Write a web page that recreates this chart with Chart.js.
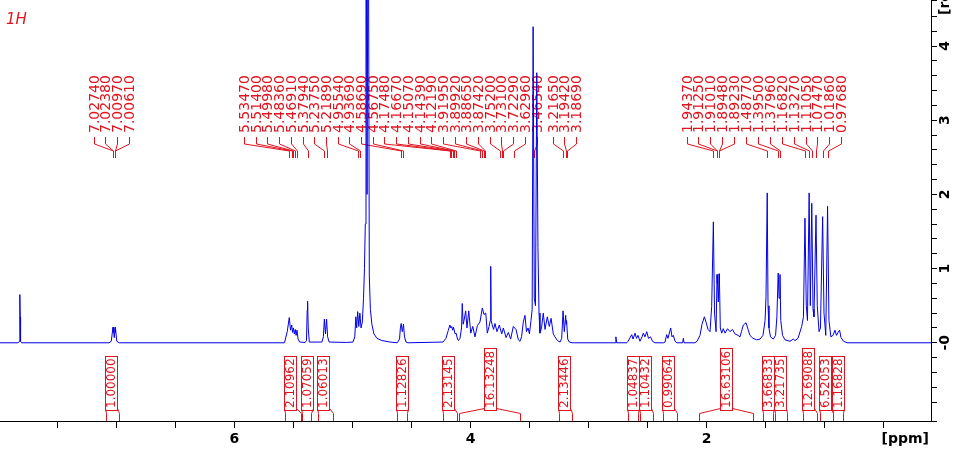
<!DOCTYPE html>
<html>
<head>
<meta charset="utf-8">
<script src="https://cdn.jsdelivr.net/npm/chart.js@4.4.0/dist/chart.umd.min.js"></script>
<style>
  body { margin: 0; background: #fff; }
  canvas { display: block; }
</style>
</head>
<body>
<canvas id="nmr" width="960" height="449"></canvas>
<script>
// спектр 1H: сдвиг (ppm) и интенсивность
const shift = [
  7.984, 7.83, 7.821, 7.816, 7.813, 7.810, 7.80,
  7.06, 7.042, 7.0274, 7.0256, 7.0238, 7.0167, 7.0097, 7.0079, 7.0061, 6.995, 6.975,
  5.575, 5.552, 5.5347, 5.524, 5.514, 5.507, 5.4998, 5.492, 5.4836, 5.477, 5.4691, 5.460, 5.447,
  5.40, 5.389, 5.383, 5.3794, 5.374, 5.365,
  5.258, 5.246, 5.2375, 5.228, 5.2189, 5.210, 5.197,
  5.05, 4.995, 4.980, 4.971, 4.964, 4.9554, 4.946, 4.9369, 4.927, 4.916, 4.906, 4.898, 4.891,
  4.885, 4.876, 4.866, 4.857, 4.848, 4.835, 4.818, 4.792, 4.750, 4.68, 4.62,
  4.601, 4.594, 4.5869, 4.578, 4.5675, 4.559, 4.546, 4.53,
  4.233, 4.208, 4.188, 4.1748, 4.1667, 4.159, 4.1507, 4.1439, 4.131, 4.1219, 4.110, 4.102, 4.089,
  4.076, 4.070, 4.062, 4.055, 4.041, 4.030, 4.015, 3.998, 3.981, 3.962, 3.942, 3.920, 3.900,
  3.886, 3.871, 3.858, 3.843, 3.833, 3.829, 3.825, 3.818, 3.805, 3.793, 3.776, 3.756, 3.736,
  3.722, 3.699, 3.680, 3.660, 3.638, 3.615, 3.595, 3.581, 3.568, 3.553, 3.539, 3.526, 3.513,
  3.501, 3.488, 3.478, 3.470, 3.460, 3.450, 3.439, 3.429, 3.420, 3.412, 3.399, 3.384, 3.369,
  3.350, 3.333, 3.318, 3.299, 3.285, 3.264, 3.242,
  3.228, 3.2165, 3.206, 3.1942, 3.1905, 3.1869, 3.177, 3.163, 3.14,
  2.775, 2.769, 2.763,
  2.676, 2.666, 2.635, 2.624, 2.607, 2.595, 2.582, 2.565, 2.548, 2.537, 2.523, 2.508, 2.493, 2.476, 2.459, 2.438,
  2.365, 2.353, 2.339, 2.328, 2.305, 2.294, 2.283, 2.268, 2.252,
  2.204, 2.198, 2.192,
  2.10, 2.082, 2.057, 2.040, 2.020, 2.006, 1.989, 1.972, 1.958, 1.9437, 1.934, 1.921,
  1.9125, 1.9113, 1.9101, 1.902, 1.8948, 1.8935, 1.8923, 1.885, 1.873, 1.860, 1.845, 1.824,
  1.803, 1.782, 1.761, 1.735, 1.718, 1.706, 1.690, 1.667, 1.650, 1.634, 1.608, 1.577, 1.549,
  1.524, 1.506, 1.498, 1.4877, 1.481, 1.473, 1.460, 1.436, 1.417, 1.406, 1.395, 1.3873, 1.3796,
  1.373, 1.358, 1.337, 1.295, 1.267, 1.253, 1.227, 1.196, 1.181, 1.1682, 1.157, 1.147, 1.1327,
  1.123, 1.1105, 1.100, 1.092, 1.0747, 1.064, 1.049, 1.037, 1.0186, 1.007, 0.992, 0.9768,
  0.965, 0.949, 0.931, 0.914, 0.901, 0.888, 0.875, 0.863, 0.841, 0.812, 0.101
];
const intensity = [
  0, 0, 0.02, 0.65, 0.35, 0.02, 0,
  0, 0.02, 0.21, 0.14, 0.21, 0.07, 0.21, 0.14, 0.21, 0.02, 0,
  0, 0.15, 0.34, 0.17, 0.24, 0.14, 0.2, 0.12, 0.18, 0.1, 0.17, 0.05, 0.01,
  0.005, 0.03, 0.44, 0.56, 0.2, 0.01,
  0.01, 0.08, 0.32, 0.12, 0.32, 0.08, 0.01,
  0.005, 0.01, 0.08, 0.35, 0.2, 0.42, 0.22, 0.4, 0.2, 0.28, 0.6, 1.0, 1.6,
  7, 2, 7, 0.9, 0.45, 0.25, 0.12, 0.06, 0.03, 0.01, 0,
  0.05, 0.2, 0.26, 0.15, 0.25, 0.08, 0.01, 0,
  0.01, 0.06, 0.17, 0.24, 0.2, 0.22, 0.17, 0.21, 0.12, 0.13, 0.05, 0.03, 0.06,
  0.2, 0.53, 0.25, 0.3, 0.43, 0.2, 0.43, 0.13, 0.22, 0.08, 0.23, 0.28, 0.47,
  0.38, 0.4, 0.13, 0.22, 0.3, 1.03, 0.3, 0.25, 0.18, 0.26, 0.15, 0.24, 0.12,
  0.2, 0.07, 0.14, 0.05, 0.22, 0.18, 0.04, 0.02, 0.08, 0.28, 0.37, 0.15, 0.2,
  0.12, 0.3, 0.45, 4.26, 0.6, 0.5, 3.64, 1.28, 0.4, 0.13, 0.2, 0.4, 0.18,
  0.35, 0.22, 0.33, 0.12, 0.08, 0.03, 0.01,
  0.06, 0.43, 0.15, 0.37, 0.25, 0.3, 0.05, 0.01, 0,
  0, 0.08, 0,
  0, 0.02, 0.11, 0.05, 0.13, 0.06, 0.1, 0.02, 0.08, 0.13, 0.08, 0.15, 0.06, 0.08, 0.02, 0,
  0, 0.01, 0.11, 0.06, 0.2, 0.08, 0.1, 0.02, 0,
  0, 0.06, 0,
  0, 0.02, 0.1, 0.25, 0.35, 0.28, 0.18, 0.15, 0.49, 1.63, 0.4, 0.15,
  0.92, 0.8, 0.9, 0.55, 0.93, 0.8, 0.9, 0.2, 0.13, 0.19, 0.13, 0.19,
  0.15, 0.18, 0.12, 0.1, 0.08, 0.15, 0.24, 0.27, 0.18, 0.1, 0.06, 0.04, 0.05,
  0.1, 0.3, 0.62, 2.02, 0.5, 0.2, 0.08, 0.05, 0.1, 0.35, 0.94, 0.6, 0.92,
  0.3, 0.1, 0.04, 0.02, 0.05, 0.03, 0.06, 0.22, 0.35, 1.68, 0.5, 0.3, 2.02,
  0.5, 1.88, 0.45, 0.35, 1.72, 0.5, 0.15, 0.2, 1.70, 0.4, 0.1, 1.84,
  0.3, 0.08, 0.1, 0.17, 0.1, 0.14, 0.17, 0.07, 0.02, 0, 0
];

// подписи пиков (группами)
const peakGroups = [
  [7.02740, 7.02380, 7.00970, 7.00610],
  [5.53470, 5.51400, 5.49980, 5.48360, 5.46910, 5.37940, 5.23750, 5.21890, 4.95540, 4.93690,
   4.58690, 4.56750, 4.17480, 4.16670, 4.15070, 4.14390, 4.12190, 3.91950, 3.89920, 3.88650,
   3.87420, 3.75200, 3.73100, 3.72290, 3.62960, 3.46540],
  [3.21650, 3.19420, 3.18690],
  [1.94370, 1.91250, 1.91010, 1.89480, 1.89230, 1.48770, 1.39500, 1.37960, 1.16820, 1.13270,
   1.11050, 1.07470, 1.01860, 0.97680]
];

// интегралы: границы (ppm) и значения
const integralFrom = [7.0865, 5.571, 5.427, 5.291, 4.625, 4.230, 4.097, 3.251, 2.664, 2.565, 2.368, 2.063, 1.523, 1.422, 1.182, 1.041, 0.933];
const integralTo   = [6.9765, 5.435, 5.350, 5.164, 4.535, 4.117, 3.581, 3.143, 2.579, 2.452, 2.254, 1.611, 1.439, 1.320, 1.069, 0.933, 0.844];
const integralValues = ['1.00000', '2.10962', '1.07059', '1.06013', '1.12826', '2.13145', '16.13248', '2.13446',
  '1.04837', '1.10432', '0.99064', '16.63106', '3.66833', '3.21735', '12.69088', '6.52053', '1.16828'];

// подписи осей
const xTickLabels = [2, 4, 6];
const yTickValues = [0, 1, 2, 3, 4];
const yTickLabels = ['-0', '1', '2', '3', '4'];

const RED = '#e0141e';
const FONT = '"DejaVu Sans", sans-serif';

// где начинаются столбики подписей у каждой группы и шаг между ними (px)
const groupLayout = [
  { start: 93.5, step: 11.8 },
  { start: 244, step: 11.7 },
  { start: 553, step: 11.3 },
  { start: 686.5, step: 11.9 }
];

const annotations = {
  id: 'annotations',
  beforeDatasetsDraw(chart) {
    const ctx = chart.ctx;
    const xs = chart.scales.x;
    const ys = chart.scales.y;
    ctx.save();

    // 1H
    ctx.fillStyle = RED;
    ctx.font = 'italic 15px ' + FONT;
    ctx.textAlign = 'left';
    ctx.textBaseline = 'alphabetic';
    ctx.fillText('1H', 6, 24);

    // подписи пиков
    ctx.strokeStyle = RED;
    ctx.lineWidth = 1;
    ctx.font = '14px ' + FONT;
    peakGroups.forEach((group, g) => {
      group.forEach((ppm, i) => {
        const sx = Math.round(groupLayout[g].start + i * groupLayout[g].step) + 0.5;
        const px = Math.round(xs.getPixelForValue(ppm)) + 0.5;
        ctx.save();
        ctx.translate(sx + 0.5, 133);
        ctx.rotate(-Math.PI / 2);
        ctx.textAlign = 'left';
        ctx.textBaseline = 'middle';
        ctx.fillText(ppm.toFixed(5), 0, 0);
        ctx.restore();
        ctx.beginPath();
        ctx.moveTo(sx, 137);
        ctx.lineTo(sx, 144);
        ctx.lineTo(px, 151);
        ctx.lineTo(px, 158);
        ctx.stroke();
      });
    });

    // интегралы
    ctx.font = '12px ' + FONT;
    const boxBottom = 410.5;
    integralValues.forEach((label, i) => {
      const l = xs.getPixelForValue(integralFrom[i]);
      const r = xs.getPixelForValue(integralTo[i]);
      const cx = (r - l) > 30 ? Math.round((l + r) / 2) : Math.round(l + 5);
      const tw = ctx.measureText(label).width;
      const top = Math.round(boxBottom - tw - 5) + 0.5;
      const bl = cx - 6 + 0.5, br = cx + 6 + 0.5;
      ctx.strokeRect(bl, top, br - bl, boxBottom - top);
      ctx.save();
      ctx.translate(cx + 0.5, boxBottom - 2.5);
      ctx.rotate(-Math.PI / 2);
      ctx.textAlign = 'left';
      ctx.textBaseline = 'middle';
      ctx.fillText(label, 0, 0);
      ctx.restore();
      const ll = Math.round(l) + 0.5, rr = Math.round(r) + 0.5;
      ctx.beginPath();
      ctx.moveTo(bl, boxBottom - 2);
      ctx.lineTo(ll, 413.5);
      ctx.lineTo(ll, 421);
      ctx.moveTo(br, boxBottom - 2);
      ctx.lineTo(rr, 413.5);
      ctx.lineTo(rr, 421);
      ctx.stroke();
    });

    // подписи правой оси (повернуты)
    ctx.fillStyle = '#000';
    ctx.font = 'bold 14px ' + FONT;
    yTickValues.forEach((v, i) => {
      ctx.save();
      ctx.translate(945, ys.getPixelForValue(v));
      ctx.rotate(-Math.PI / 2);
      ctx.textAlign = 'center';
      ctx.textBaseline = 'middle';
      ctx.fillText(yTickLabels[i], 0, 0);
      ctx.restore();
    });
    ctx.save();
    ctx.translate(945, 15);
    ctx.rotate(-Math.PI / 2);
    ctx.textAlign = 'left';
    ctx.textBaseline = 'middle';
    ctx.fillText('[rel]', 0, 0);
    ctx.restore();

    // [ppm]
    ctx.textAlign = 'right';
    ctx.textBaseline = 'middle';
    ctx.fillText('[ppm]', 929, 439);

    ctx.restore();
  }
};

const ctx = document.getElementById('nmr').getContext('2d');
new Chart(ctx, {
  type: 'line',
  data: {
    datasets: [{
      data: shift.map((x, i) => ({ x: x, y: intensity[i] })),
      borderColor: '#0000e6',
      borderWidth: 1,
      pointRadius: 0,
      tension: 0,
      fill: false
    }]
  },
  options: {
    responsive: false,
    animation: false,
    devicePixelRatio: 1,
    layout: { padding: 0 },
    plugins: {
      legend: { display: false },
      tooltip: { enabled: false }
    },
    scales: {
      x: {
        type: 'linear',
        position: 'bottom',
        reverse: true,
        min: 0.101,
        max: 7.984,
        afterFit: s => { s.height = 28; },
        border: { color: '#000', width: 1 },
        grid: { drawOnChartArea: false, tickLength: 7, tickColor: '#000' },
        ticks: {
          stepSize: 0.5,
          includeBounds: false,
          autoSkip: false,
          maxRotation: 0,
          padding: 3,
          color: '#000',
          font: { family: FONT, weight: 'bold', size: 14 },
          callback: v => (xTickLabels.includes(v) ? String(v) : '')
        }
      },
      y: {
        type: 'linear',
        position: 'right',
        min: -1.054,
        max: 4.62,
        afterFit: s => { s.width = 29; },
        border: { color: '#000', width: 1 },
        grid: { drawOnChartArea: false, tickLength: 6, tickColor: '#000' },
        ticks: { stepSize: 0.2, display: false }
      }
    }
  },
  plugins: [annotations]
});
</script>
</body>
</html>
